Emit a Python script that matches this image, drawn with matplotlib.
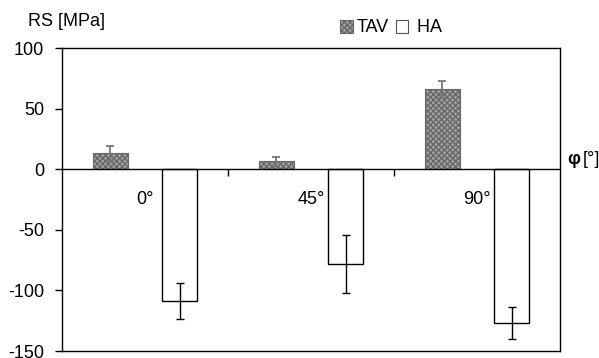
import matplotlib
matplotlib.use("Agg")
import matplotlib.pyplot as plt
import numpy as np
from matplotlib.patches import Patch
from matplotlib.lines import Line2D

plt.rcParams['font.family'] = ['Liberation Sans', 'DejaVu Sans']
plt.rcParams['hatch.linewidth'] = 0.9
plt.rcParams['axes.unicode_minus'] = False

categories = ['0°', '45°', '90°']
tav = [13, 6.5, 66]
tav_err = [6, 3.5, 7]
ha = [-109, -78, -127]
ha_err = [15, 24, 13]
yticks = [-150, -100, -50, 0, 50, 100]

FS = 13

fig = plt.figure(figsize=(5.99, 3.58), dpi=100)
ax = fig.add_axes([62/599, 1-351/358, (560-62)/599, (351-48)/358])

x = np.arange(len(categories))
w = 0.21
plt.rcParams['hatch.color'] = '#333333'
ax.bar(x - w, tav, w, color='#a0a0a0', edgecolor='#666666', linewidth=0.8,
       hatch='xxxxxx', zorder=2)
ax.errorbar(x - w, tav, yerr=tav_err, fmt='none', ecolor='#777777',
            elinewidth=1.3, capsize=3, capthick=1.3, zorder=3)
ax.bar(x + w, ha, w, color='white', edgecolor='black', linewidth=1.0, zorder=2)
ax.errorbar(x + w, ha, yerr=ha_err, fmt='none', ecolor='black',
            elinewidth=1.0, capsize=3, capthick=1.0, zorder=3)

ax.set_xlim(-0.5, len(categories) - 0.5)
ax.set_ylim(-150, 100)
ax.set_yticks(yticks)
ax.tick_params(axis='y', direction='out', length=5, width=1, labelsize=FS, pad=8)

ax.spines['bottom'].set_position(('data', 0))
ax.set_xticks(x)
ax.set_xticklabels(categories)
ax.set_xticks(x[:-1] + 0.5, minor=True)
ax.tick_params(axis='x', which='major', length=0, labelsize=FS, pad=16)
ax.tick_params(axis='x', which='minor', direction='out', length=5, width=1)
for s in ax.spines.values():
    s.set_linewidth(1.0)
ax.add_line(Line2D([0, 1], [0, 0], transform=ax.transAxes, color='black',
                   linewidth=1.0, clip_on=False))

fig.text(28/599, 1-22/358, 'RS [MPa]', fontsize=FS, va='center', ha='left')
fig.text(567/599, 1-160/358, 'φ', fontsize=FS, fontweight='bold', va='center', ha='left')
fig.text(583/599, 1-160/358, '[°]', fontsize=FS, va='center', ha='left')

handles = [Patch(facecolor='#a0a0a0', edgecolor='#666666', hatch='xxxxxx', linewidth=0.8),
           Patch(facecolor='white', edgecolor='#555555', linewidth=0.8)]
fig.legend(handles, ['TAV', ' HA'], loc='center', bbox_to_anchor=(391/599, 1-28/358),
           ncol=2, frameon=False, fontsize=FS, handlelength=0.7, handleheight=0.7,
           handletextpad=0.2, columnspacing=0.4, borderpad=0)

fig.savefig('out.png', dpi=100)
